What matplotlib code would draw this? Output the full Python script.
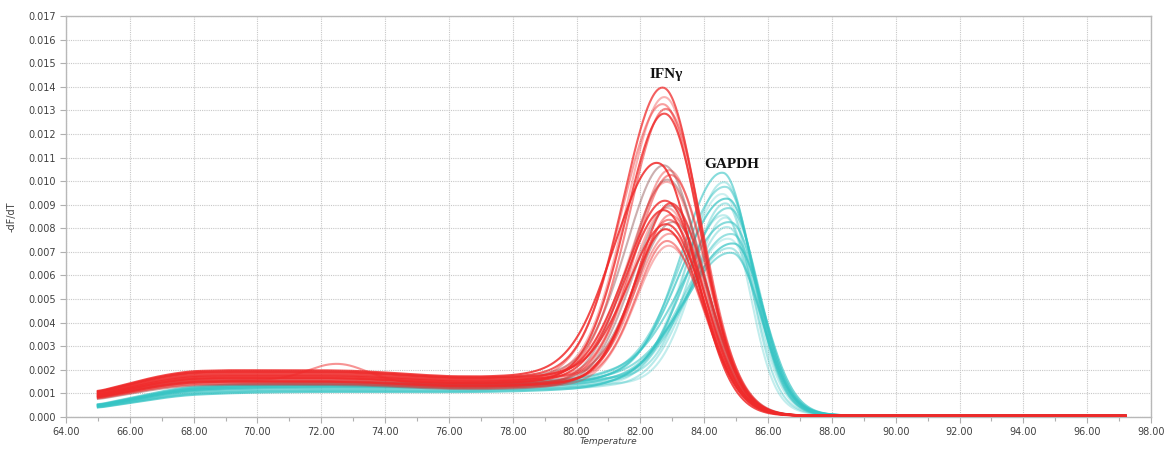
import numpy as np
import matplotlib
matplotlib.use("Agg")
import matplotlib.pyplot as plt
from matplotlib.ticker import MultipleLocator, FormatStrFormatter

# ---------------- data ----------------
base_temps = [65.0, 65.5, 66.0, 66.5, 67.0, 67.5, 68.0, 69.0, 70.0, 71.0,
              72.0, 73.0, 74.0, 75.0, 76.0, 77.0, 78.0, 79.0, 80.0, 81.0]
ifn_base_levels = [0.00090, 0.00105, 0.00120, 0.00135, 0.00148, 0.00158, 0.00165, 0.00168, 0.00168, 0.00168,
                   0.00168, 0.00166, 0.00160, 0.00152, 0.00146, 0.00145, 0.00148, 0.00155, 0.00165, 0.00180]
gapdh_base_levels = [0.00040, 0.00052, 0.00064, 0.00076, 0.00088, 0.00098, 0.00105, 0.00112, 0.00116, 0.00118,
                     0.00119, 0.00119, 0.00119, 0.00118, 0.00118, 0.00119, 0.00122, 0.00127, 0.00133, 0.00142]

# IFN-gamma curves: melt peak temperature, peak height, relative baseline offset, left width
ifn_tm = [82.75, 82.8, 82.75, 82.85, 82.8, 82.6, 82.95, 83.0, 82.9, 82.85,
          83.0, 82.9, 83.0, 82.95, 82.9, 82.85, 83.0, 82.9, 82.95, 82.8]
ifn_peak = [0.0139, 0.0135, 0.0132, 0.0130, 0.0128, 0.0107, 0.0104, 0.0102, 0.0099, 0.0091,
            0.0090, 0.0088, 0.0085, 0.0083, 0.0081, 0.0079, 0.0077, 0.0074, 0.0072, 0.0087]
ifn_offset = [0.12, 0.05, 0.00, 0.08, -0.05, 0.15, 0.02, -0.10, 0.06, 0.00,
              -0.12, -0.06, 0.04, -0.18, 0.10, -0.14, 0.03, -0.08, -0.20, -0.04]
ifn_sigma_left = [1.25, 1.2, 1.3, 1.15, 1.22, 1.35, 1.1, 1.15, 1.2, 1.25,
                  1.05, 1.15, 1.0, 1.1, 1.2, 1.05, 1.1, 0.98, 1.05, 1.2]

# GAPDH curves
gapdh_tm = [84.6, 84.65, 84.7, 84.6, 84.75, 84.7, 84.8, 84.65, 84.85, 84.75,
            84.9, 84.8, 84.95, 84.85, 84.9, 84.7]
gapdh_peak = [0.0103, 0.0099, 0.0097, 0.0094, 0.0092, 0.0090, 0.0088, 0.0085, 0.0082, 0.0080,
              0.0077, 0.0075, 0.0073, 0.0071, 0.0069, 0.0084]
gapdh_offset = [0.10, 0.00, 0.15, -0.10, 0.05, 0.12, -0.08, 0.02, 0.18, -0.12,
                0.00, 0.08, -0.15, 0.04, 0.10, -0.05]
gapdh_sigma_left = [1.3, 1.15, 1.4, 1.2, 1.45, 1.1, 1.35, 1.25, 1.5, 1.2,
                    1.45, 1.3, 1.55, 1.4, 1.5, 1.05]
gapdh_sigma_right = [0.88, 0.9, 0.85, 0.9, 0.88, 0.75, 0.9, 0.86, 0.88, 0.9,
                     0.85, 0.88, 0.9, 0.87, 0.86, 0.72]

# outlier IFN curve with a bump near 72.5 C
bump_temp = 72.5
bump_height = 0.0007

# grey (dark) curves: peak temperature, height, relative baseline offset
grey_tm = [82.9, 83.0, 82.8, 83.1]
grey_peak = [0.0100, 0.0089, 0.0106, 0.0082]
grey_offset = [-0.15, -0.22, 0.12, -0.10]

x_ticks = [64, 66, 68, 70, 72, 74, 76, 78, 80, 82, 84, 86, 88, 90, 92, 94, 96, 98]
y_max = 0.017
labels = {"IFNγ": (82.8, 0.0145), "GAPDH": (84.85, 0.0107)}

# ---------------- drawing ----------------
T = np.linspace(65.0, 97.2, 1500)


def smooth(v, n=25):
    k = np.ones(n) / n
    pad = np.concatenate([np.full(n, v[0]), v, np.full(n, v[-1])])
    return np.convolve(pad, k, mode="same")[n:-n]


def melt_curve(tm, peak, levels, offset, sl, sr, drop_shift, drop_w, bump=0.0):
    base = smooth(np.interp(T, base_temps, levels)) * (1.0 + offset)
    base = base / (1.0 + np.exp((T - (tm + drop_shift)) / drop_w))
    if bump:
        base = base + bump * np.exp(-(T - bump_temp) ** 2 / (2 * 0.9 ** 2))
    b_tm = np.interp(tm, T, base)
    g = np.where(T < tm, np.exp(-(T - tm) ** 2 / (2 * sl ** 2)),
                 np.exp(-(T - tm) ** 2 / (2 * sr ** 2)))
    return base + (peak - b_tm) * g + 0.00005


fig = plt.figure(figsize=(11.65, 4.51), dpi=100)
ax = fig.add_axes([66 / 1165, 1 - 417 / 451, (1151 - 66) / 1165, (417 - 16) / 451])

red = "#f02a2a"
teal = "#35c4c4"
grey = "#9a6060"
red_alpha = [0.75, 0.35, 0.45, 0.55, 0.8, 0.85, 0.4, 0.5, 0.35, 0.8]
teal_alpha = [0.6, 0.35, 0.5, 0.25, 0.7, 0.4, 0.55, 0.3]

for i in range(len(gapdh_tm)):
    y = melt_curve(gapdh_tm[i], gapdh_peak[i], gapdh_base_levels, gapdh_offset[i],
                   gapdh_sigma_left[i], gapdh_sigma_right[i], 1.2, 0.55)
    ax.plot(T, y, color=teal, alpha=teal_alpha[i % len(teal_alpha)], lw=1.5, zorder=2)

for i in range(len(grey_tm)):
    y = melt_curve(grey_tm[i], grey_peak[i], ifn_base_levels, grey_offset[i], 1.2, 1.12, 0.9, 0.6)
    ax.plot(T, y, color=grey, alpha=0.5, lw=1.5, zorder=3)

for i in range(len(ifn_tm)):
    bump = bump_height if i == 7 else 0.0
    y = melt_curve(ifn_tm[i], ifn_peak[i], ifn_base_levels, ifn_offset[i],
                   ifn_sigma_left[i], 1.12, 0.9, 0.6, bump=bump)
    ax.plot(T, y, color=red, alpha=red_alpha[i % len(red_alpha)], lw=1.5, zorder=4)

ax.set_xlim(x_ticks[0], x_ticks[-1])
ax.set_ylim(0, y_max)
ax.set_xticks(x_ticks)
ax.xaxis.set_minor_locator(MultipleLocator(1))
ax.yaxis.set_major_locator(MultipleLocator(0.001))
ax.xaxis.set_major_formatter(FormatStrFormatter("%.2f"))
ax.yaxis.set_major_formatter(FormatStrFormatter("%.3f"))

ax.grid(True, which="major", axis="both", color="#c8c8c8", linestyle=(0, (1, 1)), lw=0.8, zorder=0)
for s in ax.spines.values():
    s.set_color("#b8b8b8")
    s.set_linewidth(1.0)
ax.tick_params(axis="both", which="major", colors="#b0b0b0", labelcolor="#404040",
               labelsize=7, length=4, width=0.8)
ax.tick_params(axis="x", which="minor", colors="#b0b0b0", length=3, width=0.8)

ax.set_xlabel("Temperature", fontsize=6.5, style="italic", color="#404040", labelpad=0)
ax.set_ylabel("-dF/dT", fontsize=7, color="#404040", labelpad=8)

for txt, (xv, yv) in labels.items():
    ax.text(xv, yv, txt, fontsize=11, fontweight="bold", family="Liberation Serif",
            ha="center", va="center", color="#111111", zorder=6)

fig.savefig("out.png", dpi=100)
